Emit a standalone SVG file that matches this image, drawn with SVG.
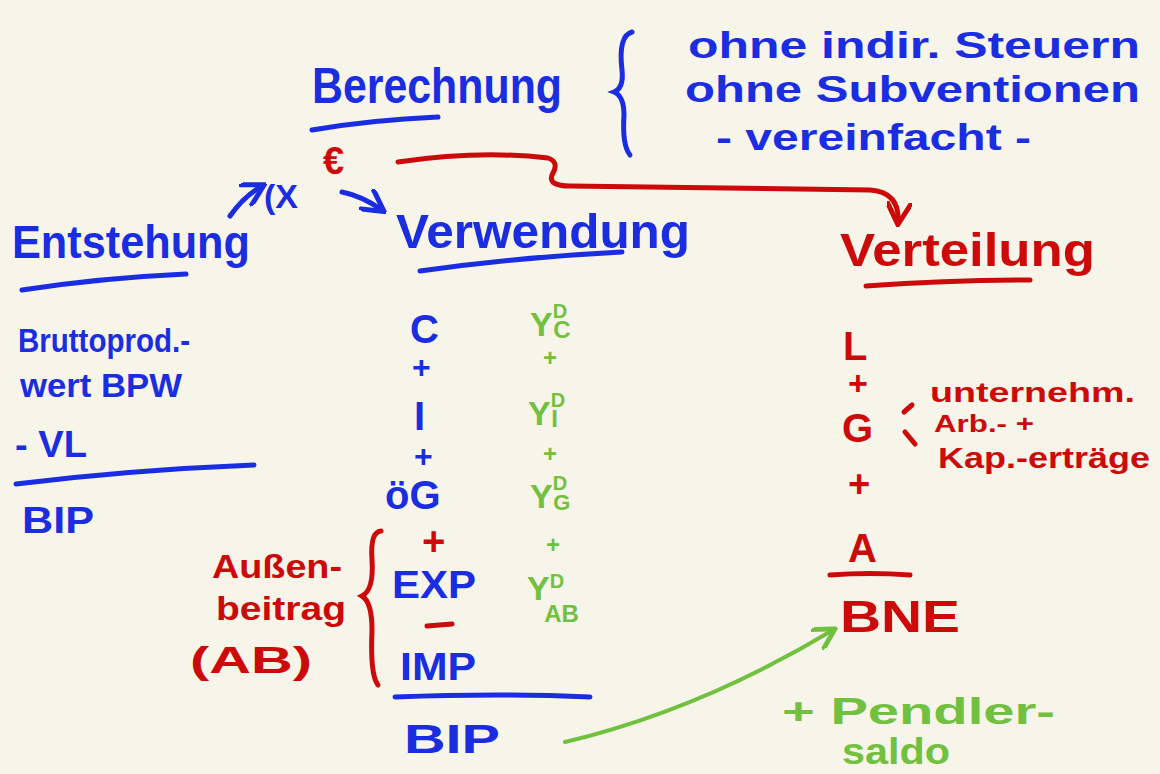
<svg xmlns="http://www.w3.org/2000/svg" width="1160" height="774" viewBox="0 0 1160 774">
<defs>
<style>
text{font-family:"Liberation Sans",Arial,sans-serif;font-weight:bold}
.b{fill:#1a2de0}.r{fill:#cc0a0a}.g{fill:#72c040}
.lb{stroke:#1a2de0;fill:none;stroke-width:5;stroke-linecap:round}
.lr{stroke:#cc0a0a;fill:none;stroke-width:5;stroke-linecap:round}
.lg{stroke:#72c040;fill:none;stroke-width:4;stroke-linecap:round}
</style>
<marker id="ar" viewBox="0 0 10 10" refX="8" refY="5" markerWidth="5" markerHeight="5" orient="auto"><path d="M0,0 L9,5 L0,10" fill="none" stroke="#cc0a0a" stroke-width="2"/></marker>
<marker id="ab" viewBox="0 0 10 10" refX="8" refY="5" markerWidth="5" markerHeight="5" orient="auto"><path d="M0,0 L9,5 L0,10" fill="none" stroke="#1a2de0" stroke-width="2"/></marker>
<marker id="ag" viewBox="0 0 10 10" refX="8" refY="5" markerWidth="6" markerHeight="6" orient="auto"><path d="M0,0 L9,5 L0,10" fill="none" stroke="#72c040" stroke-width="2"/></marker>
</defs>
<rect width="1160" height="774" fill="#f7f4e9"/>

<g id="berechnung">
<text class="b" x="312" y="103" font-size="50" textLength="250" lengthAdjust="spacingAndGlyphs">Berechnung</text>
<path class="lb" d="M312,130 Q370,120 438,117"/>
<path class="lb" d="M632,32 Q618,36 622,70 Q624,88 614,92 Q624,96 624,115 Q622,145 630,155"/>
<text class="b" x="688" y="58" font-size="36" textLength="452" lengthAdjust="spacingAndGlyphs">ohne indir. Steuern</text>
<text class="b" x="685" y="102" font-size="36" textLength="455" lengthAdjust="spacingAndGlyphs">ohne Subventionen</text>
<text class="b" x="716" y="150" font-size="36" textLength="315" lengthAdjust="spacingAndGlyphs">- vereinfacht -</text>
</g>

<g id="euro">
<text class="r" x="323" y="174" font-size="38">€</text>
</g>

<g id="alpha">
<text class="b" x="264" y="208" font-size="34">(X</text>
</g>

<g id="entstehung">
<text class="b" x="12" y="258" font-size="46" textLength="238" lengthAdjust="spacingAndGlyphs">Entstehung</text>
<path class="lb" d="M22,290 Q100,278 186,274"/>
<text class="b" x="18" y="352" font-size="34" textLength="172" lengthAdjust="spacingAndGlyphs">Bruttoprod.-</text>
<text class="b" x="20" y="397" font-size="34" textLength="162" lengthAdjust="spacingAndGlyphs">wert BPW</text>
<text class="b" x="15" y="457" font-size="36" textLength="72" lengthAdjust="spacingAndGlyphs">- VL</text>
<path class="lb" d="M16,484 Q130,470 254,465"/>
<text class="b" x="22" y="533" font-size="36" textLength="72" lengthAdjust="spacingAndGlyphs">BIP</text>
</g>

<g id="verwendung">
<text class="b" x="396" y="248" font-size="48" textLength="294" lengthAdjust="spacingAndGlyphs">Verwendung</text>
<path class="lb" d="M420,271 Q520,257 622,252"/>
<text class="b" x="410" y="343" font-size="40">C</text>
<text class="b" x="412" y="378" font-size="32">+</text>
<text class="b" x="414" y="430" font-size="40">I</text>
<text class="b" x="414" y="467" font-size="32">+</text>
<text class="b" x="385" y="509" font-size="40">öG</text>
<text class="r" x="422" y="555" font-size="40">+</text>
<text class="b" x="392" y="598" font-size="38" textLength="84" lengthAdjust="spacingAndGlyphs">EXP</text>
<path class="lr" stroke-width="8" d="M427,626 L452,624"/>
<text class="b" x="400" y="680" font-size="38" textLength="76" lengthAdjust="spacingAndGlyphs">IMP</text>
<path class="lb" d="M395,697 Q500,693 590,697"/>
<text class="b" x="404" y="753" font-size="40" textLength="96" lengthAdjust="spacingAndGlyphs">BIP</text>
</g>

<g id="nachfrage">
<text class="g" x="530" y="336" font-size="34">Y<tspan font-size="20" dy="-18">D</tspan><tspan font-size="24" dx="-14" dy="20">C</tspan></text>
<text class="g" x="543" y="366" font-size="24">+</text>
<text class="g" x="528" y="425" font-size="34">Y<tspan font-size="20" dy="-18">D</tspan><tspan font-size="24" dx="-14" dy="20">I</tspan></text>
<text class="g" x="543" y="462" font-size="24">+</text>
<text class="g" x="530" y="508" font-size="34">Y<tspan font-size="20" dy="-18">D</tspan><tspan font-size="22" dx="-14" dy="20">G</tspan></text>
<text class="g" x="546" y="553" font-size="24">+</text>
<text class="g" x="527" y="600" font-size="34">Y<tspan font-size="20" dy="-12">D</tspan><tspan font-size="24" dx="-20" dy="34">AB</tspan></text>
</g>

<g id="aussenbeitrag">
<text class="r" x="212" y="578" font-size="34" textLength="130" lengthAdjust="spacingAndGlyphs">Außen-</text>
<text class="r" x="216" y="620" font-size="34" textLength="130" lengthAdjust="spacingAndGlyphs">beitrag</text>
<text class="r" x="190" y="673" font-size="36" textLength="122" lengthAdjust="spacingAndGlyphs">(AB)</text>
<path class="lr" d="M381,531 Q370,532 372,560 Q374,590 362,596 Q372,602 372,630 Q370,675 378,685"/>
</g>

<g id="verteilung">
<text class="r" x="840" y="266" font-size="46" textLength="255" lengthAdjust="spacingAndGlyphs">Verteilung</text>
<path class="lr" d="M866,286 Q950,280 1030,280"/>
<text class="r" x="843" y="360" font-size="40">L</text>
<text class="r" x="848" y="395" font-size="34">+</text>
<text class="r" x="842" y="442" font-size="40">G</text>
<text class="r" x="848" y="497" font-size="38">+</text>
<text class="r" x="848" y="562" font-size="40">A</text>
<path class="lr" d="M830,575 Q870,572 910,575"/>
<text class="r" x="840" y="632" font-size="44" textLength="120" lengthAdjust="spacingAndGlyphs">BNE</text>
<path class="lr" d="M904,412 L912,405"/>
<path class="lr" d="M905,432 L915,444"/>
<text class="r" x="930" y="402" font-size="28" textLength="205" lengthAdjust="spacingAndGlyphs">unternehm.</text>
<text class="r" x="934" y="432" font-size="24" textLength="100" lengthAdjust="spacingAndGlyphs">Arb.- +</text>
<text class="r" x="938" y="468" font-size="30" textLength="212" lengthAdjust="spacingAndGlyphs">Kap.-erträge</text>
</g>

<g id="pendlersaldo">
<text class="g" x="782" y="724" font-size="36" textLength="273" lengthAdjust="spacingAndGlyphs">+ Pendler-</text>
<text class="g" x="842" y="764" font-size="36" textLength="108" lengthAdjust="spacingAndGlyphs">saldo</text>
</g>

<g id="connectors">
<path class="lr" marker-end="url(#ar)" d="M398,162 Q480,150 548,158 Q560,162 552,175 Q548,186 570,186 L870,190 Q900,192 898,222"/>
<path class="lb" marker-end="url(#ab)" d="M230,216 Q244,196 262,186"/>
<path class="lb" marker-end="url(#ab)" d="M342,192 Q362,196 382,210"/>
<path class="lg" marker-end="url(#ag)" d="M565,742 Q700,710 833,630"/>
</g>
</svg>
